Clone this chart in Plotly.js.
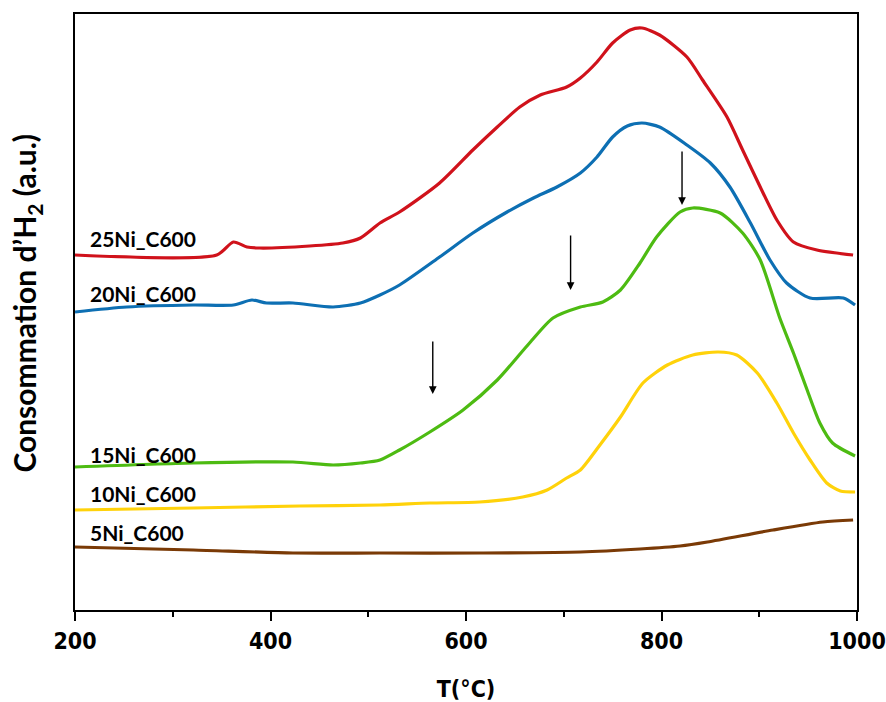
<!DOCTYPE html>
<html><head><meta charset="utf-8">
<script src="https://cdn.plot.ly/plotly-3.0.1.min.js"></script>
<style>html,body{margin:0;padding:0;background:#fff}#chart{width:886px;height:702px}</style>
</head><body><div id="chart"></div>
<script>
// Temperatures (°C) and H2 consumption (a.u., offset curves)
const T_25 = [200,345,362,376,389,440,474,492,512,532,573,607,632,655,676,703,717,734,750,768,780,798,826,842,867,883,901,918,935,959,996];
const H_25 = [355,355,368,363,362,364,367,372,387,398,427,460,483,503,515,523,532,548,567,580,582,575,553,530,493,460,423,390,368,360,355];

const T_20 = [200,253,321,362,381,396,423,464,492,512,532,573,607,642,669,693,717,734,750,765,780,798,826,850,870,891,911,928,952,986,998];
const H_20 = [298,303,305,305,310,307,307,303,307,315,325,353,377,398,412,423,437,453,473,484,487,483,465,447,423,387,350,327,312,312,305];

const T_15 = [200,321,423,464,492,512,532,563,597,632,665,689,717,740,758,778,795,819,832,860,883,901,921,935,949,962,975,998];
const H_15 = [143,147,148,145,147,150,160,178,200,230,267,292,303,308,320,347,373,398,402,397,377,350,292,257,220,187,167,154];

const T_10 = [200,321,430,512,563,614,658,683,703,717,737,758,781,806,832,858,877,898,918,935,952,969,983,998];
const H_10 = [100,102,104,105,107,108,113,120,132,140,165,193,227,245,255,258,255,237,207,177,150,127,119,118];

const T_5 = [200,321,423,512,614,717,778,819,847,914,965,996];
const H_5 = [63,60,57,57,57,58,61,64,68,80,88,90];

const seriesNames = ["25Ni_C600","20Ni_C600","15Ni_C600","10Ni_C600","5Ni_C600"];
const seriesColors = ["#D0121B","#0D6FB3","#4DBB12","#FFD20A","#7A3A06"];
const labelY = [372,317,156,117,78];
const labelX = 213;

// Arrows marking reduction peaks: [T, tail value, head value]
const arrowT = [566,707,821];
const arrowTail = [270,376,460];
const arrowHead = [216,320,405];

const xs = [T_25,T_20,T_15,T_10,T_5];
const ys = [H_25,H_20,H_15,H_10,H_5];

const traces = xs.map((x,i)=>({
  x:x, y:ys[i], type:'scatter', mode:'lines', name:seriesNames[i],
  line:{color:seriesColors[i], width:3.2, shape:'spline', smoothing:0.7},
  hoverinfo:'skip'
}));

const annotations = [];
seriesNames.forEach((n,i)=>{
  annotations.push({x:labelX, y:labelY[i], xref:'x', yref:'y', text:n, showarrow:false,
    xanchor:'left', yanchor:'middle',
    font:{family:'Lato, "Open Sans", sans-serif', size:21, color:'#000', weight:700}});
});
arrowT.forEach((t,i)=>{
  annotations.push({x:t, y:arrowHead[i], ax:t, ay:arrowTail[i], xref:'x', yref:'y', axref:'x', ayref:'y',
    text:'', showarrow:true, arrowhead:2, arrowsize:1.1, arrowwidth:1.4, arrowcolor:'#000'});
});
annotations.push({xref:'paper', yref:'paper', x:-0.062, y:0.515, text:'Consommation d’H<sub>2</sub> (a.u.)',
  textangle:-90, showarrow:false, xanchor:'center', yanchor:'middle',
  font:{family:'Lato, "Open Sans", sans-serif', size:30, color:'#000', weight:700}});

const tickFont = {family:'"Liberation Sans Narrow", "Arial Narrow", "DejaVu Sans Condensed", sans-serif', size:23, color:'#000', weight:700};

const layout = {
  width:886, height:702,
  margin:{l:75, r:29, t:14, b:92},
  paper_bgcolor:'#fff', plot_bgcolor:'#fff',
  showlegend:false,
  xaxis:{range:[200,1000], showgrid:false, zeroline:false, showline:true, mirror:true,
    linecolor:'#000', linewidth:2, ticks:'outside', ticklen:9, tickwidth:2, tickcolor:'#000',
    dtick:200, tick0:200, tickfont:tickFont,
    minor:{dtick:100, tick0:200, ticks:'outside', ticklen:5, tickwidth:2, tickcolor:'#000', showgrid:false},
    title:{text:'T(°C)', font:tickFont, standoff:28}},
  yaxis:{range:[0,596], showgrid:false, zeroline:false, showline:true, mirror:true,
    linecolor:'#000', linewidth:2, ticks:'', showticklabels:false},
  annotations:annotations
};
Plotly.newPlot('chart', traces, layout, {staticPlot:true, displayModeBar:false});
</script></body></html>
